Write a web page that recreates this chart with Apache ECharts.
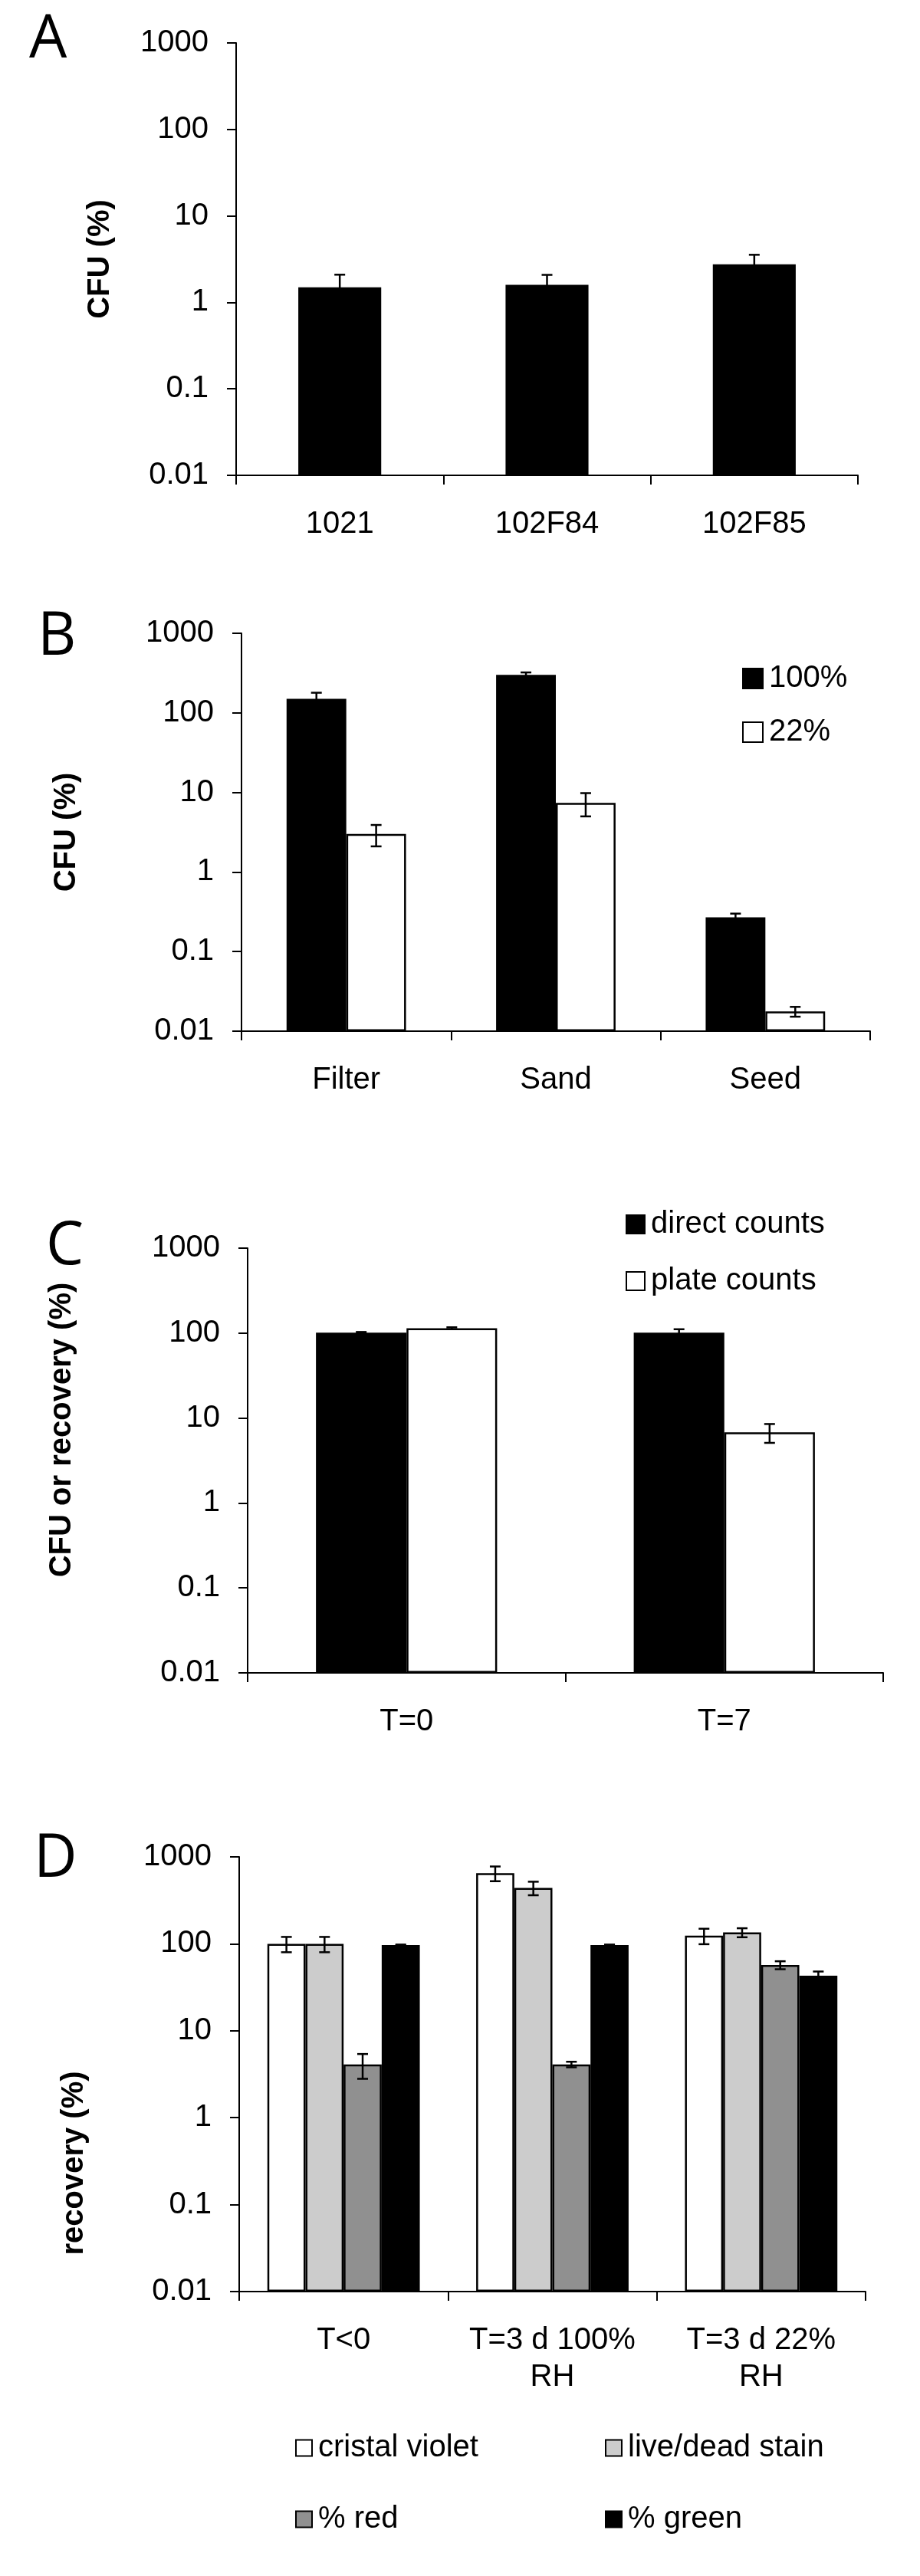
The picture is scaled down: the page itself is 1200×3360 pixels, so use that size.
<!DOCTYPE html>
<html><head><meta charset="utf-8">
<script src="https://cdn.jsdelivr.net/npm/echarts@6/dist/echarts.min.js"></script>
<style>html,body{margin:0;padding:0;background:#fff}#c{width:1200px;height:3360px}</style>
</head><body><div id="c"></div>
<script>
// ---- Data ----
const yTicks = [0.01, 0.1, 1, 10, 100, 1000];

const catsA = ['1021', '102F84', '102F85'];
const valsA = [1.49, 1.60, 2.76];
const errA = [0.6, 0.48, 0.79];

const catsB = ['Filter', 'Sand', 'Seed'];
const seriesNamesB = ['100%', '22%'];
const valsB100 = [150, 300, 0.27];
const errB100 = [29, 22, 0.03];
const valsB22 = [3.0, 7.4, 0.0177];
const errB22 = [0.9, 2.4, 0.0025];

const catsC = ['T=0', 'T=7'];
const seriesNamesC = ['direct counts', 'plate counts'];
const valsCdirect = [101, 101];
const errCdirect = [2, 10];
const valsCplate = [114, 6.8];
const errCplate = [3, 1.7];

const catsD = ['T<0', 'T=3 d 100%\nRH', 'T=3 d 22%\nRH'];
const seriesNamesD = ['cristal violet', 'live/dead stain', '% red', '% green'];
const valsDviolet = [100, 650, 124];
const errDviolet = [20, 125, 25];
const valsDlive = [100, 440, 135];
const errDlive = [20, 78, 16];
const valsDred = [4.1, 4.1, 57];
const errDred = [1.3, 0.3, 6];
const valsDgreen = [97, 97, 43];
const errDgreen = [1, 1, 5];

// ---- Styling helpers ----
const FONT = '"Liberation Sans", Arial, sans-serif';
const grids = [
  {left: 308, top: 56, width: 811, height: 564},
  {left: 315, top: 826, width: 820, height: 519},
  {left: 323, top: 1628, width: 829, height: 554},
  {left: 312, top: 2422, width: 817, height: 567}
];

function xAx(gi, cats) {
  return {
    type: 'category', gridIndex: gi, data: cats,
    axisLine: {show: true, lineStyle: {color: '#000', width: 2}},
    axisTick: {show: true, length: 12, interval: 0, alignWithLabel: false, lineStyle: {color: '#000', width: 2}},
    axisLabel: {color: '#000', fontFamily: FONT, fontSize: 40, margin: 40, lineHeight: 48, interval: 0},
    splitLine: {show: false}
  };
}
function yAx(gi, name, gap, pad) {
  return {
    type: 'log', logBase: 10, gridIndex: gi, min: yTicks[0], max: yTicks[yTicks.length - 1],
    startValue: yTicks[0],
    name: name, nameLocation: 'middle', nameGap: gap,
    nameTextStyle: {color: '#000', fontFamily: FONT, fontSize: 40, fontWeight: 'bold', padding: pad},
    axisLine: {show: true, lineStyle: {color: '#000', width: 2}},
    axisTick: {show: true, length: 12, lineStyle: {color: '#000', width: 2}},
    axisLabel: {color: '#000', fontFamily: FONT, fontSize: 40, margin: 36,
      formatter: v => String(+Number(v).toPrecision(4))},
    splitLine: {show: false}
  };
}
function barS(gi, name, vals, color, gap, border) {
  return {
    type: 'bar', name: name, xAxisIndex: gi, yAxisIndex: gi, data: vals,
    barCategoryGap: gap, barGap: '0%',
    itemStyle: {color: color, borderColor: '#000', borderWidth: border},
    emphasis: {disabled: true}, animation: false
  };
}
function errS(gi, vals, errs, idx, n, gapFrac) {
  return {
    type: 'custom', xAxisIndex: gi, yAxisIndex: gi, z: 10, animation: false, silent: true,
    data: vals.map((v, i) => [i, v, errs[i]]),
    encode: {x: 0, y: 1},
    renderItem: function (params, api) {
      const c = api.value(0), v = api.value(1), e = api.value(2);
      const bw = api.coord([1, v])[0] - api.coord([0, v])[0];
      const base = api.coord([c, v]);
      const total = bw * (1 - gapFrac);
      const each = total / n;
      const x = base[0] - total / 2 + (idx + 0.5) * each;
      const lo = Math.max(v - e, 1e-6);
      const yHi = api.coord([c, v + e])[1];
      const yLo = api.coord([c, lo])[1];
      const cap = 7;
      const st = {stroke: '#000', lineWidth: 2.5};
      return {type: 'group', children: [
        {type: 'line', shape: {x1: x, y1: yHi, x2: x, y2: yLo}, style: st},
        {type: 'line', shape: {x1: x - cap, y1: yHi, x2: x + cap, y2: yHi}, style: st},
        {type: 'line', shape: {x1: x - cap, y1: yLo, x2: x + cap, y2: yLo}, style: st}
      ]};
    }
  };
}
function legend(names, left, top, gap, size) {
  return {
    data: names, orient: 'vertical', left: left, top: top, itemGap: gap,
    itemWidth: size, itemHeight: size, icon: 'rect', selectedMode: false,
    itemStyle: {borderColor: '#000', borderWidth: 2},
    textStyle: {color: '#000', fontFamily: FONT, fontSize: 40, padding: [0, 0, 0, 3]}
  };
}
function letter(t, x, y) {
  return {type: 'text', left: x, top: y, silent: true,
    style: {text: t, fill: '#000', font: '78px "Open Sans", Lato, sans-serif'}};
}

const option = {
  animation: false,
  backgroundColor: '#fff',
  grid: grids,
  xAxis: [xAx(0, catsA), xAx(1, catsB), xAx(2, catsC), xAx(3, catsD)],
  yAxis: [
    yAx(0, 'CFU (%)', 157, 0),
    yAx(1, 'CFU (%)', 208, 0),
    yAx(2, 'CFU or recovery (%)', 222, [0, 0, 0, 80]),
    yAx(3, 'recovery (%)', 195, [0, 232, 0, 0])
  ],
  legend: [
    legend(seriesNamesB, 963, 860, 30, 26),
    legend(seriesNamesC, 811, 1572, 34, 24),
    legend([seriesNamesD[0], seriesNamesD[2]], 380, 3168, 53, 21),
    legend([seriesNamesD[1], seriesNamesD[3]], 784, 3168, 53, 21)
  ],
  graphic: [letter('A', 38, 14), letter('B', 49, 793), letter('C', 60, 1588), letter('D', 44, 2387)],
  series: [
    barS(0, 'A', valsA, '#000', '60%', 0),
    errS(0, valsA, errA, 0, 1, 0.60),

    barS(1, seriesNamesB[0], valsB100, '#000', '43%', 0),
    barS(1, seriesNamesB[1], valsB22, '#fff', '43%', 2.5),
    errS(1, valsB100, errB100, 0, 2, 0.43),
    errS(1, valsB22, errB22, 1, 2, 0.43),

    barS(2, seriesNamesC[0], valsCdirect, '#000', '43%', 0),
    barS(2, seriesNamesC[1], valsCplate, '#fff', '43%', 2.5),
    errS(2, valsCdirect, errCdirect, 0, 2, 0.43),
    errS(2, valsCplate, errCplate, 1, 2, 0.43),

    barS(3, seriesNamesD[0], valsDviolet, '#fff', '27%', 2.5),
    barS(3, seriesNamesD[1], valsDlive, '#cccccc', '27%', 2.5),
    barS(3, seriesNamesD[2], valsDred, '#909090', '27%', 2.5),
    barS(3, seriesNamesD[3], valsDgreen, '#000', '27%', 0),
    errS(3, valsDviolet, errDviolet, 0, 4, 0.27),
    errS(3, valsDlive, errDlive, 1, 4, 0.27),
    errS(3, valsDred, errDred, 2, 4, 0.27),
    errS(3, valsDgreen, errDgreen, 3, 4, 0.27)
  ]
};
const chart = echarts.init(document.getElementById('c'), null, {renderer: 'canvas'});
chart.setOption(option);
</script></body></html>
